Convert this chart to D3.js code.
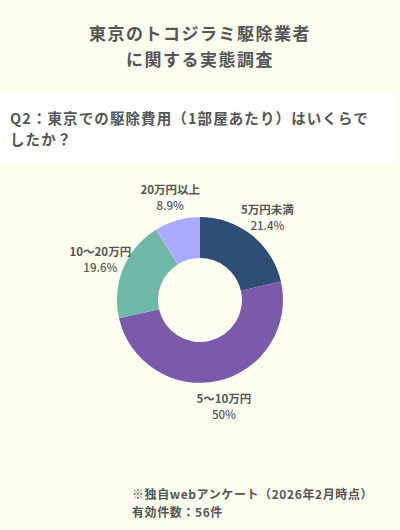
<!DOCTYPE html>
<html lang="ja">
<head>
  <meta charset="UTF-8">
  <title>東京のトコジラミ駆除業者に関する実態調査</title>
  <script src="https://d3js.org/d3.v7.min.js"></script>
  <style>
    html, body { margin: 0; padding: 0; background: #fdfdf0; }
    body { font-family: "Noto Sans CJK JP", "Noto Sans", sans-serif; color: #555; }
    svg text { font-family: "Noto Sans CJK JP", "Noto Sans", sans-serif; }
  </style>
</head>
<body>
  <div id="chart"></div>
  <script>
    // data
    const categories = ["5万円未満", "5〜10万円", "10〜20万円", "20万円以上"];
    const values = [21.4, 50, 19.6, 8.9];
    const colors = ["#2e4e73", "#7c5aab", "#6fb8a8", "#aaabff"];
    const titleLines = ["東京のトコジラミ駆除業者", "に関する実態調査"];
    const questionLines = ["Q2：東京での駆除費用（1部屋あたり）はいくらで", "したか？"];
    const noteLines = ["※独自webアンケート（2026年2月時点）", "有効件数：56件"];

    const width = 400, height = 530;
    const cx = 200, cy = 300, outerR = 83, innerR = 42, labelR = 108;

    const svg = d3.select("#chart").append("svg")
      .attr("width", width)
      .attr("height", height);

    svg.append("rect").attr("width", width).attr("height", height).attr("fill", "#fdfdf0");

    // title
    svg.append("g").selectAll("text")
      .data(titleLines)
      .join("text")
      .attr("x", width / 2)
      .attr("y", (d, i) => 40 + i * 26)
      .attr("text-anchor", "middle")
      .attr("font-size", 17)
      .attr("font-weight", "bold")
      .attr("letter-spacing", 1.5)
      .attr("fill", "#555")
      .text(d => d);

    // question band
    svg.append("rect")
      .attr("x", 0).attr("y", 93)
      .attr("width", 397).attr("height", 70)
      .attr("fill", "#ffffff");

    svg.append("g").selectAll("text")
      .data(questionLines)
      .join("text")
      .attr("x", 10)
      .attr("y", (d, i) => 124 + i * 21)
      .attr("font-size", 14.5)
      .attr("font-weight", "bold")
      .attr("letter-spacing", 1.1)
      .attr("fill", "#555")
      .text(d => d);

    // donut
    const slices = categories.map((c, i) => ({ name: c, value: values[i], color: colors[i] }));
    const pie = d3.pie().value(d => d.value).sort(null);
    const arc = d3.arc().innerRadius(innerR).outerRadius(outerR);
    const labelArc = d3.arc().innerRadius(labelR).outerRadius(labelR);

    const g = svg.append("g").attr("transform", `translate(${cx},${cy})`);

    g.selectAll("path")
      .data(pie(slices))
      .join("path")
      .attr("d", arc)
      .attr("fill", d => d.data.color);

    const labels = g.selectAll("g.label")
      .data(pie(slices))
      .join("g")
      .attr("class", "label")
      .attr("transform", d => `translate(${labelArc.centroid(d)})`);

    labels.append("text")
      .attr("y", -2)
      .attr("text-anchor", "middle")
      .attr("font-size", 11.5)
      .attr("font-weight", "bold")
      .attr("fill", "#555")
      .text(d => d.data.name);

    labels.append("text")
      .attr("y", 14)
      .attr("text-anchor", "middle")
      .attr("font-size", 11.5)
      .attr("font-weight", 500)
      .attr("fill", "#555")
      .text(d => d.data.value + "%");

    // note
    svg.append("g").selectAll("text")
      .data(noteLines)
      .join("text")
      .attr("x", 132)
      .attr("y", (d, i) => 499 + i * 18)
      .attr("font-size", 12)
      .attr("font-weight", "bold")
      .attr("letter-spacing", 0.6)
      .attr("fill", "#555")
      .text(d => d);
  </script>
</body>
</html>
